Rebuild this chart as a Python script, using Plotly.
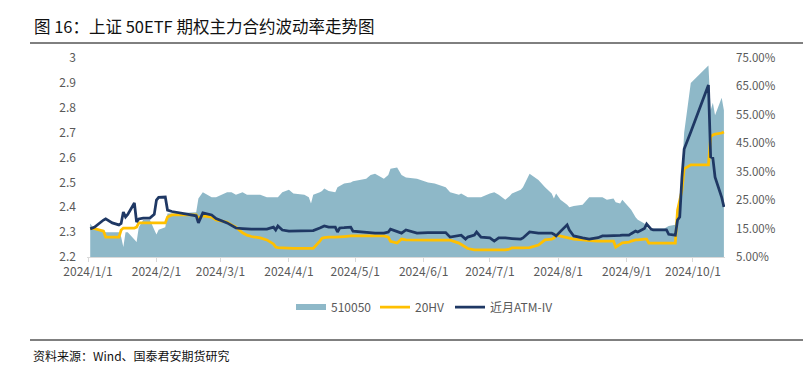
import plotly.graph_objects as go

# ---------------- data ----------------
dates = [
    "2024-01-02", "2024-01-04", "2024-01-08", "2024-01-09", "2024-01-12", "2024-01-15",
    "2024-01-16", "2024-01-17", "2024-01-18", "2024-01-19", "2024-01-22", "2024-01-23",
    "2024-01-24", "2024-01-26", "2024-01-29", "2024-01-31", "2024-02-01", "2024-02-02",
    "2024-02-05", "2024-02-06", "2024-02-08", "2024-02-19", "2024-02-20", "2024-02-22",
    "2024-02-26", "2024-02-28", "2024-03-04", "2024-03-06", "2024-03-08", "2024-03-11",
    "2024-03-13", "2024-03-15", "2024-03-19", "2024-03-22", "2024-03-25", "2024-03-26",
    "2024-03-27", "2024-03-29", "2024-04-01", "2024-04-03", "2024-04-08", "2024-04-10",
    "2024-04-11", "2024-04-12", "2024-04-15", "2024-04-16", "2024-04-17", "2024-04-19",
    "2024-04-22", "2024-04-23", "2024-04-24", "2024-04-26", "2024-04-29", "2024-04-30",
    "2024-05-06", "2024-05-08", "2024-05-10", "2024-05-14", "2024-05-16", "2024-05-17",
    "2024-05-20", "2024-05-22", "2024-05-24", "2024-05-29", "2024-06-03", "2024-06-06",
    "2024-06-11", "2024-06-13", "2024-06-17", "2024-06-18", "2024-06-20", "2024-06-21",
    "2024-06-24", "2024-06-25", "2024-06-27", "2024-07-01", "2024-07-03", "2024-07-05",
    "2024-07-08", "2024-07-10", "2024-07-11", "2024-07-15", "2024-07-16", "2024-07-19",
    "2024-07-23", "2024-07-26", "2024-07-29", "2024-07-30", "2024-07-31", "2024-08-02",
    "2024-08-05", "2024-08-06", "2024-08-08", "2024-08-12", "2024-08-14", "2024-08-15",
    "2024-08-19", "2024-08-21", "2024-08-23", "2024-08-26", "2024-08-27", "2024-08-29",
    "2024-08-30", "2024-09-02", "2024-09-03", "2024-09-05", "2024-09-06", "2024-09-09",
    "2024-09-10", "2024-09-11", "2024-09-12", "2024-09-13", "2024-09-18", "2024-09-19",
    "2024-09-20", "2024-09-23", "2024-09-24", "2024-09-25", "2024-09-26", "2024-09-27",
    "2024-09-30", "2024-10-08", "2024-10-09", "2024-10-10", "2024-10-11", "2024-10-14",
    "2024-10-15",
]

etf_510050 = [
    2.335, 2.31, 2.31, 2.30, 2.30, 2.30,
    2.28, 2.24, 2.30, 2.30, 2.27, 2.26,
    2.32, 2.35, 2.35, 2.31, 2.29, 2.31,
    2.32, 2.375, 2.375, 2.38, 2.435, 2.46,
    2.44, 2.44, 2.46, 2.46, 2.45, 2.46,
    2.45, 2.45, 2.45, 2.44, 2.44, 2.44,
    2.44, 2.46, 2.47, 2.455, 2.45, 2.44,
    2.415, 2.45, 2.46, 2.465, 2.475, 2.465,
    2.46, 2.48, 2.485, 2.495, 2.50, 2.505,
    2.515, 2.53, 2.535, 2.515, 2.53, 2.555,
    2.56, 2.53, 2.52, 2.515, 2.50, 2.495,
    2.48, 2.46, 2.45, 2.455, 2.445, 2.44,
    2.44, 2.44, 2.44, 2.455, 2.46, 2.45,
    2.43, 2.445, 2.455, 2.47, 2.48, 2.535,
    2.51, 2.48, 2.455, 2.435, 2.455, 2.43,
    2.41, 2.40, 2.405, 2.41, 2.43, 2.44,
    2.44, 2.44, 2.43, 2.435, 2.42, 2.415,
    2.43, 2.40, 2.39, 2.36, 2.35, 2.335,
    2.32, 2.31, 2.31, 2.315, 2.315, 2.32,
    2.325, 2.33, 2.38, 2.43, 2.54, 2.70,
    2.90, 2.97, 2.79, 2.82, 2.77, 2.84,
    2.79,
]

hv_20 = [
    15.0, 15.0, 14.1, 12.0, 12.0, 12.0,
    14.5, 15.2, 15.2, 15.2, 15.2, 15.5,
    17.0, 17.0, 17.0, 17.0, 17.0, 17.0,
    17.0, 19.1, 19.8, 19.8, 18.7, 19.5,
    19.0, 18.0, 17.3, 16.3, 15.5, 13.5,
    12.7, 12.2, 11.7, 11.0, 9.6, 8.5,
    8.3, 8.2, 8.0, 8.0, 8.0, 7.9,
    7.8, 8.0, 10.6, 11.6, 11.8, 12.0,
    12.0, 12.0, 12.0, 12.2, 12.4, 12.4,
    12.4, 12.4, 12.4, 12.4, 12.0, 10.5,
    9.9, 11.3, 11.0, 10.9, 10.9, 10.9,
    10.9, 10.9, 9.9, 9.5, 8.5, 8.0,
    7.5, 7.5, 7.5, 7.5, 7.5, 7.5,
    7.5, 7.8, 8.2, 8.2, 8.2, 8.3,
    9.2, 11.0, 11.3, 11.6, 12.7, 12.4,
    12.0, 11.8, 11.3, 11.0, 11.0, 10.8,
    10.6, 10.6, 10.6, 10.6, 8.5, 9.5,
    10.0, 10.2, 10.6, 11.0, 11.0, 11.3,
    11.3, 9.9, 9.9, 9.9, 9.9, 9.9,
    9.9, 9.9, 21.5, 25.0, 28.5, 36.0,
    37.4, 37.4, 47.2, 47.9, 48.2, 48.6,
    49.0,
]

atm_iv = [
    14.9, 15.5, 18.0, 18.4, 17.0, 16.3,
    16.8, 20.8, 19.1, 20.0, 24.0, 17.3,
    18.4, 18.7, 18.7, 20.0, 25.0, 26.0,
    26.1, 21.5, 21.0, 19.5, 17.0, 20.5,
    19.8, 18.5, 17.0, 16.0, 15.2, 15.0,
    14.8, 14.8, 14.8, 14.8, 15.5, 14.5,
    15.9, 14.5, 14.1, 14.1, 14.1, 14.1,
    14.1, 14.3, 15.2, 15.5, 15.9, 15.5,
    15.5, 13.8, 15.2, 15.3, 15.5, 14.1,
    13.6, 13.4, 13.4, 13.4, 13.8, 14.8,
    13.8, 13.4, 14.5, 13.4, 13.6, 13.6,
    13.6, 12.0, 12.5, 12.7, 11.3, 12.0,
    12.7, 13.8, 12.0, 11.7, 10.6, 11.7,
    11.7, 11.7, 11.5, 11.3, 11.7, 13.8,
    13.4, 13.4, 13.4, 13.0, 12.4, 14.0,
    16.3, 14.5, 12.4, 11.7, 11.5, 11.3,
    11.8, 12.4, 12.4, 12.4, 12.4, 12.6,
    12.7, 12.7, 13.2, 14.1, 13.8, 15.0,
    16.6, 15.5, 14.8, 14.5, 14.5, 14.5,
    13.0, 12.7, 18.0, 19.1, 33.1, 43.0,
    49.0, 65.5, 40.2, 39.8, 33.1, 26.0,
    22.6,
]

x_tick_vals = ["2024-01-01", "2024-02-01", "2024-03-01", "2024-04-01", "2024-05-01",
               "2024-06-01", "2024-07-01", "2024-08-01", "2024-09-01", "2024-10-01"]
x_tick_text = ["2024/1/1", "2024/2/1", "2024/3/1", "2024/4/1", "2024/5/1",
               "2024/6/1", "2024/7/1", "2024/8/1", "2024/9/1", "2024/10/1"]
y1_tick_vals = [2.2, 2.3, 2.4, 2.5, 2.6, 2.7, 2.8, 2.9, 3.0]
y1_tick_text = ["2.2", "2.3", "2.4", "2.5", "2.6", "2.7", "2.8", "2.9", "3"]
y2_tick_vals = [5, 15, 25, 35, 45, 55, 65, 75]
y2_tick_text = ["5.00%", "15.00%", "25.00%", "35.00%", "45.00%", "55.00%", "65.00%", "75.00%"]

series_names = ["510050", "20HV", "近月ATM-IV"]
title_text = "图 16：上证 50ETF 期权主力合约波动率走势图"
source_text = "资料来源：Wind、国泰君安期货研究"

# ---------------- layout helpers ----------------
# The page body has an 8px margin, so the figure is 8px smaller and all
# reference pixel positions are shifted by OFF.
OFF = 8
W, H = 811 - OFF, 372 - OFF
PL, PR, PT, PB = 87 - OFF, 725 - OFF, 58 - OFF, 257 - OFF  # plot area (figure px)


def px(x):  # x in page pixels of the reference -> paper
    return (x - OFF - PL) / (PR - PL)


def py(y):
    return (PB - (y - OFF)) / (PB - PT)


FONT = "Noto Sans CJK SC"
TICK_COLOR = "#595959"

fig = go.Figure()
fig.add_trace(go.Scatter(
    x=dates, y=etf_510050, name=series_names[0], mode="none",
    fill="tozeroy", fillcolor="#8EB8C8", yaxis="y", legend="legend",
))
fig.add_trace(go.Scatter(
    x=dates, y=hv_20, name=series_names[1], mode="lines",
    line=dict(color="#FFC000", width=2.75), yaxis="y2", legend="legend2",
))
fig.add_trace(go.Scatter(
    x=dates, y=atm_iv, name=series_names[2], mode="lines",
    line=dict(color="#1F3864", width=2.75), yaxis="y2", legend="legend3",
))


def leg(xpage):
    return dict(
        orientation="h", x=px(xpage), y=py(307), xanchor="left", yanchor="middle",
        font=dict(family=FONT, size=12, color=TICK_COLOR),
        bgcolor="rgba(0,0,0,0)", borderwidth=0,
    )


fig.update_layout(
    width=W, height=H,
    margin=dict(l=PL, r=W - PR, t=PT, b=H - PB, autoexpand=False),
    paper_bgcolor="white", plot_bgcolor="white",
    font=dict(family=FONT, size=12, color=TICK_COLOR),
    showlegend=True,
    legend=leg(291),
    legend2=leg(375),
    legend3=leg(450),
    xaxis=dict(
        type="date", range=["2023-12-31 13:00", "2024-10-15 12:00"],
        tickvals=x_tick_vals, ticktext=x_tick_text,
        showgrid=False, zeroline=False,
        showline=True, linecolor="#D9D9D9", linewidth=1,
        ticks="outside", ticklen=4, tickcolor="#D9D9D9",
        tickfont=dict(family=FONT, size=12, color=TICK_COLOR),
        ticklabelstandoff=0,
    ),
    yaxis=dict(
        range=[2.2, 3.0], tickvals=y1_tick_vals, ticktext=y1_tick_text,
        showgrid=False, zeroline=False, showline=False,
        tickfont=dict(family=FONT, size=12, color=TICK_COLOR),
        ticklabelstandoff=10,
    ),
    yaxis2=dict(
        range=[5, 75], tickvals=y2_tick_vals, ticktext=y2_tick_text,
        overlaying="y", side="right",
        showgrid=False, zeroline=False, showline=False,
        tickfont=dict(family=FONT, size=11.5, color=TICK_COLOR),
        ticklabelstandoff=10,
    ),
)

# title and footer
fig.add_annotation(
    text=title_text, xref="paper", yref="paper", x=px(32), y=py(26),
    xanchor="left", yanchor="middle", showarrow=False,
    font=dict(family=FONT, size=16.5, color="#111111"),
)
fig.add_annotation(
    text=source_text, xref="paper", yref="paper", x=px(31), y=py(355),
    xanchor="left", yanchor="middle", showarrow=False,
    font=dict(family=FONT, size=12, color="#111111"),
)
fig.add_shape(type="line", xref="paper", yref="paper",
              x0=px(30), x1=px(811), y0=py(43), y1=py(43),
              line=dict(color="#000000", width=1))
fig.add_shape(type="line", xref="paper", yref="paper",
              x0=px(30), x1=px(811), y0=py(340), y1=py(340),
              line=dict(color="#000000", width=1))

fig.write_html("out.html")
